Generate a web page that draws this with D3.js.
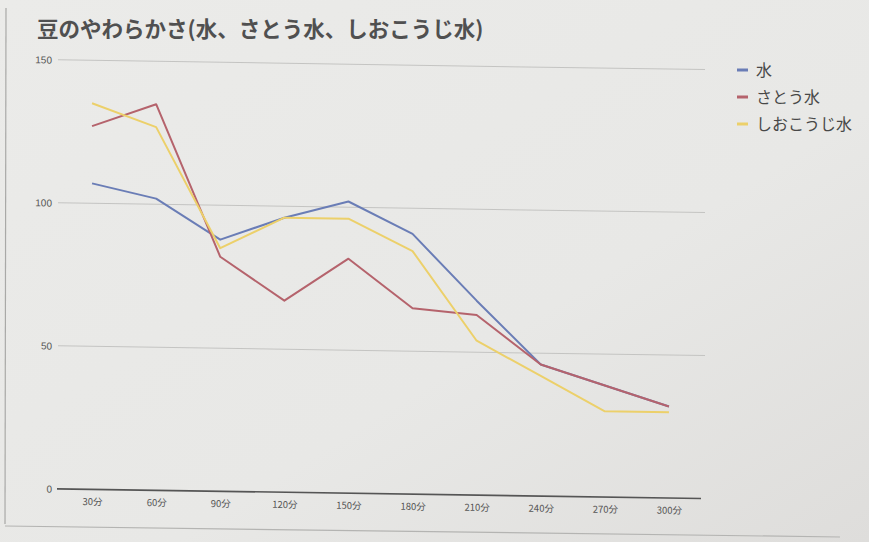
<!DOCTYPE html>
<html>
<head>
<meta charset="utf-8">
<script src="https://cdn.jsdelivr.net/npm/d3@7"></script>
<style>
  html, body { margin: 0; padding: 0; background: #e8e8e6; }
  svg { display: block; }
</style>
</head>
<body>
<svg id="chart" width="869" height="542"></svg>
<script>
// Softness of the beans over soaking time
const categories = ["30分", "60分", "90分", "120分", "150分", "180分", "210分", "240分", "270分", "300分"];
const seriesNames = ["水", "さとう水", "しおこうじ水"];
const water = [107, 102, 88, 96, 102, 91, 68, 46, 39, 32];
const sugarWater = [127, 135, 82, 67, 82, 65, 63, 46, 39, 32];
const saltKojiWater = [135, 127, 85, 96, 96, 85, 54, 42, 30, 30];
const yTicks = [0, 50, 100, 150];
const colors = ["#6a7db6", "#b5636c", "#ecd06a"];
const titleText = "豆のやわらかさ(水、さとう水、しおこうじ水)";

const series = [water, sugarWater, saltKojiWater];

const svg = d3.select("#chart");

// paper background with a faint darkening toward the right
const defs = svg.append("defs");
const grad = defs.append("linearGradient").attr("id", "paper")
  .attr("x1", "0").attr("y1", "0").attr("x2", "1").attr("y2", "1");
grad.append("stop").attr("offset", "0").attr("stop-color", "#ebebe9");
grad.append("stop").attr("offset", "0.6").attr("stop-color", "#e8e8e6");
grad.append("stop").attr("offset", "1").attr("stop-color", "#dedddb");
svg.append("rect").attr("width", 869).attr("height", 542).attr("fill", "url(#paper)");

// frame edges
svg.append("line").attr("x1", 6).attr("y1", 8).attr("x2", 5).attr("y2", 524)
  .attr("stroke", "#a9a9a7").attr("stroke-width", 1.2);
svg.append("line").attr("x1", 5).attr("y1", 526).attr("x2", 840).attr("y2", 537)
  .attr("stroke", "#b4b4b2").attr("stroke-width", 1.2);

// title
svg.append("text")
  .attr("x", 37).attr("y", 37)
  .attr("font-family", "'Noto Sans CJK JP', sans-serif")
  .attr("font-size", 21.5).attr("font-weight", 700)
  .attr("fill", "#505050")
  .text(titleText);

// plot group, slightly tilted like the printed sheet
const tilt = 0.86;
const g = svg.append("g").attr("transform", `skewY(${tilt})`);

const x = d3.scalePoint().domain(categories).range([60, 701]).padding(0.5);
const y = d3.scaleLinear().domain([0, 150]).range([488, 59]);

// gridlines
g.append("g").selectAll("line").data(yTicks.filter(d => d > 0)).join("line")
  .attr("x1", 58).attr("x2", 705)
  .attr("y1", d => y(d)).attr("y2", d => y(d))
  .attr("stroke", "#c4c4c2").attr("stroke-width", 1);

// y axis labels
const yAxis = d3.axisLeft(y).tickValues(yTicks).tickSize(0).tickPadding(5);
const ya = g.append("g").attr("transform", "translate(57,0)").call(yAxis);
ya.select(".domain").remove();
ya.selectAll("text").attr("font-family", "'Liberation Sans', Arial, sans-serif")
  .attr("font-size", 10).attr("fill", "#555");

// baseline and x labels
const xAxis = d3.axisBottom(x).tickSize(0).tickPadding(9);
const xa = g.append("g").attr("transform", `translate(0,${y(0)})`).call(xAxis);
xa.select(".domain").attr("d", "M57,0H701").attr("stroke", "#555").attr("stroke-width", 1.6);
xa.selectAll("text").attr("font-family", "'Noto Sans CJK JP', sans-serif")
  .attr("font-size", 9.5).attr("fill", "#555");

// series lines
const line = d3.line().x((d, i) => x(categories[i])).y(d => y(d));
g.append("g").selectAll("path").data(series).join("path")
  .attr("d", d => line(d))
  .attr("fill", "none")
  .attr("stroke", (d, i) => colors[i])
  .attr("stroke-width", 2)
  .attr("stroke-linejoin", "round");

// legend
const lg = svg.append("g").attr("transform", "translate(737,70)");
const item = lg.selectAll("g").data(seriesNames).join("g")
  .attr("transform", (d, i) => `translate(0,${i * 27})`);
item.append("line").attr("x1", 0).attr("x2", 11).attr("y1", 0).attr("y2", 0)
  .attr("stroke", (d, i) => colors[i]).attr("stroke-width", 3);
item.append("text").attr("x", 19).attr("y", 0).attr("dy", "0.36em")
  .attr("font-family", "'Noto Sans CJK JP', sans-serif")
  .attr("font-size", 16).attr("fill", "#484848")
  .text(d => d);
</script>
</body>
</html>
